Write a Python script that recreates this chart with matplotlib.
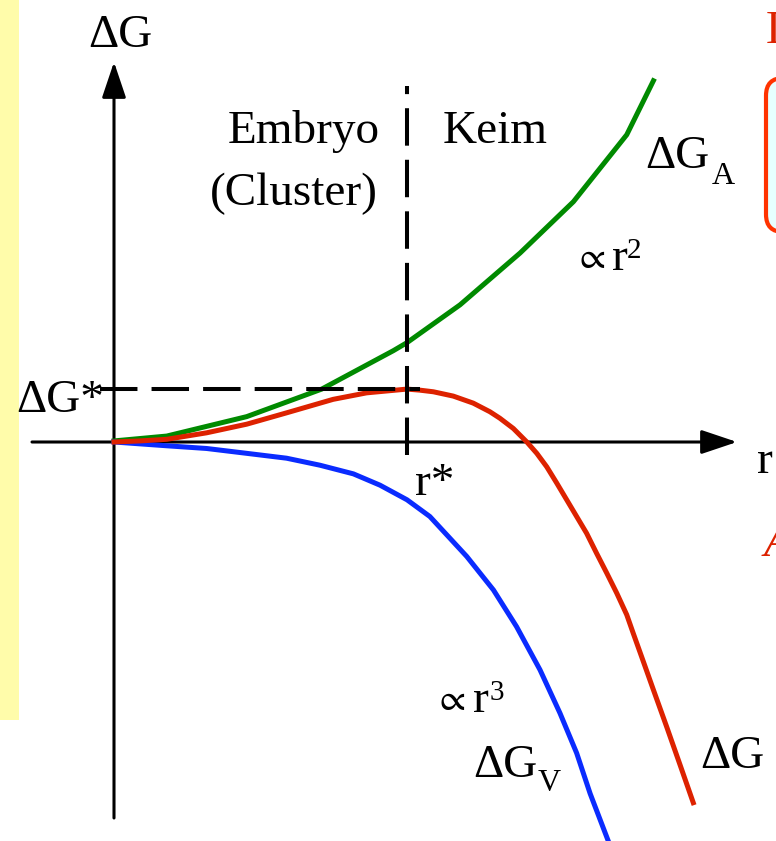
import numpy as np
import matplotlib
matplotlib.use("Agg")
import matplotlib.pyplot as plt
from matplotlib.patches import Rectangle, FancyBboxPatch

# --- curve data (r in units of r*, free energy in units of dG*) ---
r_area = [0.0, 0.18, 0.453, 0.709, 0.953, 1.0, 1.181, 1.386, 1.568, 1.750, 1.841]
dG_area = [0.02, 0.11, 0.47, 0.98, 1.69, 1.84, 2.54, 3.50, 4.45, 5.69, 6.69]

r_total = [0.0, 0.089, 0.180, 0.316, 0.453, 0.589, 0.748, 0.862, 1.0, 1.044,
           1.090, 1.158, 1.226, 1.283, 1.317, 1.363, 1.409, 1.443, 1.477, 1.511,
           1.545, 1.579, 1.613, 1.647, 1.682, 1.716, 1.750, 1.772, 1.801, 1.841,
           1.886, 1.932, 1.977]
dG_total = [0.0, 0.02, 0.05, 0.17, 0.33, 0.54, 0.79, 0.91, 0.98, 0.96,
            0.93, 0.85, 0.72, 0.56, 0.44, 0.25, 0.0, -0.21, -0.46, -0.76,
            -1.07, -1.38, -1.69, -2.06, -2.43, -2.80, -3.20, -3.54, -3.98, -4.59,
            -5.27, -5.98, -6.68]

r_vol = [0.0, 0.180, 0.316, 0.453, 0.589, 0.703, 0.817, 0.908, 1.0, 1.078,
         1.204, 1.295, 1.374, 1.454, 1.522, 1.579, 1.625, 1.687]
dG_vol = [0.0, -0.07, -0.12, -0.21, -0.30, -0.43, -0.59, -0.80, -1.07, -1.38,
          -2.12, -2.74, -3.42, -4.22, -5.02, -5.76, -6.51, -7.39]

r_star = 1.0
dG_star = max(dG_total)

# --- figure / coordinate layout ---
W, H = 776, 841
X0, Y0, SX, SY = 114, 442, 293, 54   # origin pixel and pixels per unit


def px(x, y):
    return (x - X0) / SX, (Y0 - y) / SY


plt.rcParams['font.family'] = ['Liberation Serif', 'DejaVu Serif']
plt.rcParams['mathtext.fontset'] = 'stix'

fig = plt.figure(figsize=(W / 100, H / 100), dpi=100)
ax = fig.add_axes([0, 0, 1, 1])
ax.set_xlim(-X0 / SX, (W - X0) / SX)
ax.set_ylim((Y0 - H) / SY, Y0 / SY)
ax.axis('off')

# side decorations
x_a, y_a = px(0, 720)
x_b, y_b = px(19, 0)
ax.add_patch(Rectangle((x_a, y_a), x_b - x_a, y_b - y_a, facecolor='#FFFCAA',
                       edgecolor='none', zorder=0))
bx0, by0 = px(766, 232)
bx1, by1 = px(900, 78)
ax.add_patch(FancyBboxPatch((bx0, by0), bx1 - bx0, by1 - by0,
                            boxstyle='round,pad=0,rounding_size=0.06',
                            mutation_aspect=SX / SY,
                            facecolor='#E6FFFF', edgecolor='#FF3300', lw=3, zorder=1))

# coordinate axes with arrow heads
arrow = dict(arrowstyle='-|>,head_length=1.1,head_width=0.37', mutation_scale=20,
             lw=2.2, color='black', shrinkA=0, shrinkB=0)
ax.annotate('', xy=px(737, 442), xytext=px(32, 442), arrowprops=arrow, zorder=2)
ax.annotate('', xy=px(114, 62), xytext=px(114, 818), arrowprops=arrow, zorder=2)

# curves
ax.plot(r_area, dG_area, color='#008A00', lw=3.6, solid_joinstyle='miter', zorder=3)
ax.plot(r_vol, dG_vol, color='#0A2BFF', lw=3.6, zorder=3)
ax.plot(r_total, dG_total, color='#DD2200', lw=3.6, zorder=4)

# critical nucleus markers
dash = dict(color='black', lw=2.9, dashes=(9.3, 3.5), zorder=5)
ax.plot([r_star, r_star], [px(0, 455)[1], px(0, 86)[1]], **dash)
ax.plot([px(100, 0)[0], px(420, 0)[0]], [dG_star, dG_star], **dash)


# labels
def label(x, y, s, size=34, color='black', **kw):
    ax.text(*px(x, y), s, fontsize=size, color=color, ha=kw.pop('ha', 'left'),
            va='baseline', zorder=6, **kw)


label(88, 47, 'ΔG')
label(380, 143, 'Embryo', ha='right')
label(378, 205, '(Cluster)', ha='right')
label(443, 143, 'Keim')
label(645, 168, 'ΔG')
label(712, 184, 'A', size=23)
label(574, 268, r'$\propto$', size=27)
label(612, 270, 'r')
label(627, 258, '2', size=21)
label(16, 412, 'ΔG*')
label(415, 495, 'r*')
label(757, 473, 'r')
label(434, 710, r'$\propto$', size=27)
label(473, 712, 'r')
label(490, 700, '3', size=21)
label(473, 777, 'ΔG')
label(538, 791, 'V', size=23)
label(700, 768, 'ΔG')
label(766, 43, 'D', color='#DD2200')
label(764, 556, 'A', color='#DD2200', style='italic')

fig.savefig('out.png', dpi=100)
